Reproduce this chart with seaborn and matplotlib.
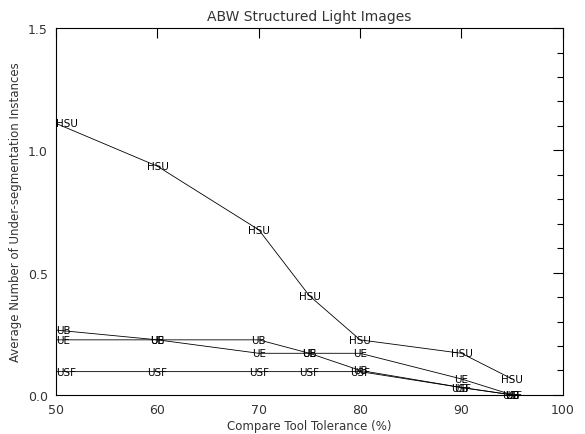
import numpy as np
import pandas as pd
import matplotlib
matplotlib.use("Agg")
import matplotlib.pyplot as plt
import seaborn as sns
from matplotlib.ticker import MultipleLocator

# -----------------------------
# Data
# -----------------------------
tolerance = [50, 60, 70, 75, 80, 90, 95]
hsu = [1.11, 0.935, 0.675, 0.405, 0.225, 0.17, 0.065]
ub = [0.265, 0.225, 0.225, 0.17, 0.10, 0.03, 0.0]
ue = [0.225, 0.225, 0.17, 0.17, 0.17, 0.065, 0.0]
usf = [0.095, 0.095, 0.095, 0.095, 0.095, 0.03, 0.0]

series = {"HSU": hsu, "UB": ub, "UE": ue, "USF": usf}
df = pd.concat(
    [pd.DataFrame({"tol": tolerance, "val": v, "method": k}) for k, v in series.items()],
    ignore_index=True,
)

# -----------------------------
# Plot
# -----------------------------
sns.set_style("white")
plt.rcParams["font.family"] = ["DejaVu Sans"]

fig = plt.figure(figsize=(5.85, 4.35), dpi=100)
ax = fig.add_axes([0.096, 0.09, 0.866, 0.843])

sns.lineplot(data=df, x="tol", y="val", units="method", estimator=None,
             color="black", linewidth=0.6, ax=ax, legend=False)

# text markers at every point (left-edge ones kept inside the frame)
xmin = min(tolerance)
for _, r in df.iterrows():
    ha = "left" if r["tol"] == xmin else "center"
    ax.text(r["tol"], r["val"], r["method"], fontsize=7.5, ha=ha, va="center",
            color="black")

ax.set_xlim(50, 100)
ax.set_ylim(0, 1.5)
ax.xaxis.set_major_locator(MultipleLocator(10))
ax.yaxis.set_major_locator(MultipleLocator(0.5))
ax.yaxis.set_minor_locator(MultipleLocator(0.1))
ax.yaxis.set_major_formatter(matplotlib.ticker.FormatStrFormatter("%.1f"))
ax.tick_params(axis="both", which="both", direction="in", top=True, right=True,
               labelsize=9, color="black", labelcolor="#333333", pad=6)
ax.tick_params(which="major", length=7, width=0.8)
ax.tick_params(which="minor", length=4, width=0.8)
for s in ax.spines.values():
    s.set_color("black")
    s.set_linewidth(0.8)

ax.set_xlabel("Compare Tool Tolerance (%)", fontsize=8.5, color="#333333", labelpad=2)
ax.set_ylabel("Average Number of Under-segmentation Instances", fontsize=8.5,
              color="#333333", labelpad=4)
ax.set_title("ABW Structured Light Images", fontsize=10, color="#333333", pad=6)

fig.savefig("out.png", dpi=100)
